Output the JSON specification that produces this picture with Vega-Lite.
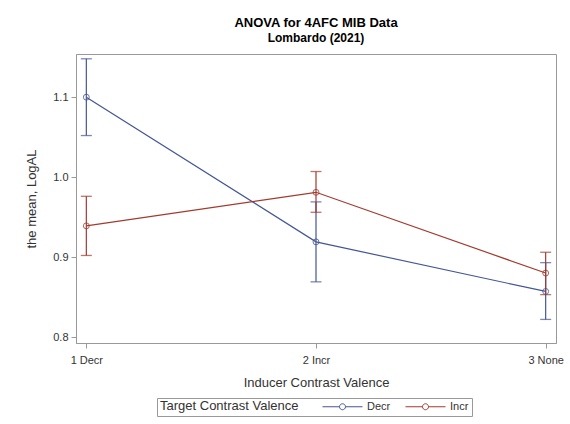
{
  "$schema": "https://vega.github.io/schema/vega-lite/v6.json",
  "width": 480,
  "height": 289,
  "autosize": {"type": "none"},
  "padding": {"left": 76, "top": 54, "right": 14, "bottom": 81},
  "background": "white",
  "title": {
    "text": "ANOVA for 4AFC MIB Data",
    "subtitle": "Lombardo (2021)",
    "font": "Liberation Sans",
    "fontSize": 13,
    "fontWeight": "bold",
    "color": "#000000",
    "subtitleFont": "Liberation Sans",
    "subtitleFontSize": 12,
    "subtitleFontWeight": "bold",
    "subtitleColor": "#000000",
    "subtitlePadding": 3,
    "anchor": "middle",
    "offset": 10
  },
  "data": {
    "values": [
      {"inducer": "1 Decr", "target": "Decr", "mean": 1.100, "lo": 1.052, "hi": 1.148},
      {"inducer": "2 Incr", "target": "Decr", "mean": 0.919, "lo": 0.869, "hi": 0.969},
      {"inducer": "3 None", "target": "Decr", "mean": 0.857, "lo": 0.822, "hi": 0.893},
      {"inducer": "1 Decr", "target": "Incr", "mean": 0.939, "lo": 0.902, "hi": 0.976},
      {"inducer": "2 Incr", "target": "Incr", "mean": 0.981, "lo": 0.956, "hi": 1.007},
      {"inducer": "3 None", "target": "Incr", "mean": 0.880, "lo": 0.853, "hi": 0.906}
    ]
  },
  "encoding": {
    "x": {
      "field": "inducer",
      "type": "ordinal",
      "scale": {"type": "point", "padding": 0.045},
      "axis": {
        "title": "Inducer Contrast Valence",
        "labelAngle": 0,
        "labelFont": "Liberation Sans",
        "labelFontSize": 11,
        "labelColor": "#333333",
        "titleFont": "Liberation Sans",
        "titleFontSize": 13,
        "titleFontWeight": "normal",
        "titleColor": "#333333",
        "titlePadding": 11,
        "domainColor": "#999999",
        "tickColor": "#999999",
        "tickSize": 5,
        "labelPadding": 6
      }
    },
    "color": {
      "field": "target",
      "type": "nominal",
      "scale": {"domain": ["Decr", "Incr"], "range": ["#445694", "#A23A2E"]},
      "legend": {
        "title": "Target Contrast Valence",
        "orient": "none",
        "legendX": 81,
        "legendY": 344,
        "direction": "horizontal",
        "titleOrient": "left",
        "titleFont": "Liberation Sans",
        "titleFontSize": 13,
        "titleFontWeight": "normal",
        "titleColor": "#333333",
        "titlePadding": 38,
        "titleBaseline": "middle",
        "labelFont": "Liberation Sans",
        "labelFontSize": 11,
        "labelColor": "#333333",
        "strokeColor": "#999999",
        "padding": 3,
        "columnPadding": 12,
        "labelOffset": 19,
        "symbolType": "M-4,0H-0.6M0.6,0A0.6,0.6 0 1,1 -0.6,0A0.6,0.6 0 1,1 0.6,0M0.6,0H4",
        "symbolSize": 100,
        "symbolStrokeWidth": 1,
        "symbolOpacity": 1,
        "encode": {"symbols": {"update": {"fill": {"value": "transparent"}, "fillOpacity": {"value": 0}}}}
      }
    }
  },
  "layer": [
    {
      "mark": {"type": "line", "strokeWidth": 1.2},
      "encoding": {
        "y": {
          "field": "mean",
          "type": "quantitative",
          "scale": {"domain": [0.7925, 1.154], "nice": false, "zero": false},
          "axis": {
            "title": "the mean, LogAL",
            "values": [0.8, 0.9, 1.0, 1.1],
            "format": ".1f",
            "grid": false,
            "labelFont": "Liberation Sans",
            "labelFontSize": 11,
            "labelColor": "#333333",
            "titleFont": "Liberation Sans",
            "titleFontSize": 13,
            "titleFontWeight": "normal",
            "titleColor": "#333333",
            "titlePadding": 14,
            "domainColor": "#999999",
            "tickColor": "#999999",
            "tickSize": 5,
            "labelPadding": 3
          }
        }
      }
    },
    {
      "mark": {"type": "rule", "strokeWidth": 1.2},
      "encoding": {"y": {"field": "lo", "type": "quantitative"}, "y2": {"field": "hi"}}
    },
    {
      "mark": {"type": "tick", "size": 11, "thickness": 1.3},
      "encoding": {"y": {"field": "lo", "type": "quantitative"}}
    },
    {
      "mark": {"type": "tick", "size": 11, "thickness": 1.3},
      "encoding": {"y": {"field": "hi", "type": "quantitative"}}
    },
    {
      "mark": {"type": "point", "shape": "circle", "filled": false, "size": 35, "strokeWidth": 1, "opacity": 0.8},
      "encoding": {"y": {"field": "mean", "type": "quantitative"}}
    }
  ],
  "config": {
    "view": {"stroke": "#999999", "strokeWidth": 1},
    "axis": {"grid": false}
  }
}
